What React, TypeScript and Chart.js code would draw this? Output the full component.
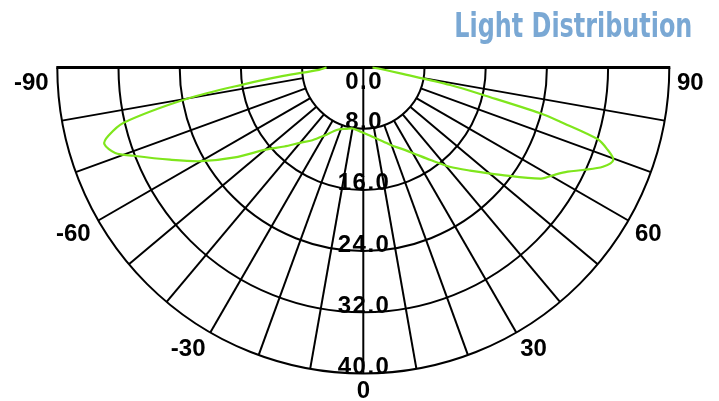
import React, { useEffect, useRef } from 'react';
import { Chart, registerables } from 'chart.js';

Chart.register(...registerables);

// Photometric curve: angle (deg, 0 = straight down) and intensity value
const angles = [-90, -87, -84, -82, -80, -77, -75, -73.5, -71, -69, -64.5, -60, -55, -50, -45, -40, -35, -30, -22.5, -15, -10, -5, 0, 5, 10, 15, 20, 25, 30, 36, 41, 46, 52, 58, 61, 63, 65, 67.5, 69.7, 71.5, 73, 74.6, 75.5, 77, 78.6, 81, 85, 90];
const intensity = [4.8, 5.8, 10.5, 15.8, 23.2, 32.2, 34.5, 35.3, 34.3, 32.2, 28.0, 24.5, 20.5, 16.7, 14.6, 12.85, 11.6, 10.3, 8.8, 8.3, 8.1, 8.25, 8.52, 8.9, 9.4, 10.0, 10.85, 11.7, 12.9, 14.95, 17.2, 19.4, 22.8, 27.4, 28.8, 30.0, 31.7, 33.9, 34.85, 33.6, 32.0, 26.7, 23.9, 16.4, 11.6, 4.9, 2.3, 1.2];

const ringTicks = [0, 8, 16, 24, 32, 40];
const spokeAngles = [-80, -70, -60, -50, -40, -30, -20, -10, 0, 10, 20, 30, 40, 50, 60, 70, 80];
const angleTickLabels = [-90, -60, -30, 0, 30, 60, 90];
const titleText = 'Light Distribution';

const W = 719;
const H = 401;
const CX = 363.3;
const CY = 67.5;
const UNIT = 7.65;

export default function App() {
  const ref = useRef<HTMLCanvasElement>(null);

  useEffect(() => {
    const points = angles.map((a, i) => {
      const t = (a * Math.PI) / 180;
      return { x: intensity[i] * Math.sin(t), y: -intensity[i] * Math.cos(t) };
    });
    const rMax = ringTicks[ringTicks.length - 1];
    const rInner = ringTicks[1];

    const gridPlugin = {
      id: 'polarGrid',
      beforeDatasetsDraw(chart: any) {
        const ctx = chart.ctx as CanvasRenderingContext2D;
        const xs = chart.scales.x;
        const ys = chart.scales.y;
        const cx = xs.getPixelForValue(0);
        const cy = ys.getPixelForValue(0);
        const u = xs.getPixelForValue(1) - cx;
        ctx.save();
        ctx.strokeStyle = '#000';
        ctx.lineWidth = 2;
        ringTicks.forEach((r) => {
          if (r <= 0) return;
          ctx.beginPath();
          ctx.arc(cx, cy, r * u, 0, Math.PI);
          ctx.stroke();
        });
        spokeAngles.forEach((a) => {
          const t = (a * Math.PI) / 180;
          const r0 = a === 0 ? 0 : rInner;
          ctx.beginPath();
          ctx.moveTo(cx + r0 * u * Math.sin(t), cy + r0 * u * Math.cos(t));
          ctx.lineTo(cx + rMax * u * Math.sin(t), cy + rMax * u * Math.cos(t));
          ctx.stroke();
        });
        ctx.lineWidth = 3.2;
        ctx.beginPath();
        ctx.moveTo(cx - rMax * u - 1, cy);
        ctx.lineTo(cx + rMax * u + 1, cy);
        ctx.stroke();

        ctx.fillStyle = '#000';
        ctx.font = 'bold 24px Arial, "Liberation Sans", sans-serif';
        ctx.textAlign = 'center';
        ctx.textBaseline = 'alphabetic';
        (ctx as any).letterSpacing = '1.5px';
        ringTicks.forEach((r) => {
          const y = r === 0 ? cy + 21 : cy + r * u + 0.5;
          ctx.fillText(r.toFixed(1), cx + 0.8, y);
        });
        (ctx as any).letterSpacing = '0px';
        const R = 41;
        angleTickLabels.forEach((a) => {
          const t = (a * Math.PI) / 180;
          const x = cx + R * u * Math.sin(t);
          let top = cy + R * u * Math.cos(t);
          if (Math.abs(a) === 90) top = cy + 5.5;
          ctx.textAlign = a > 0 ? 'left' : a < 0 ? 'right' : 'center';
          ctx.fillText(String(a), a < 0 ? x - 1 : x, top + 16.5);
        });

        ctx.font = 'bold 34px "Liberation Sans Narrow", "DejaVu Sans Condensed", sans-serif';
        const w = ctx.measureText(titleText).width;
        ctx.save();
        ctx.translate(692.3, 36.5);
        ctx.scale(238 / w, 1);
        ctx.textAlign = 'right';
        ctx.fillStyle = '#7AA8D4';
        ctx.fillText(titleText, 0, 0);
        ctx.restore();
        ctx.restore();
      },
    };

    const chart = new Chart(ref.current as HTMLCanvasElement, {
      type: 'scatter',
      data: {
        datasets: [
          {
            data: points,
            showLine: true,
            borderColor: '#7FE61C',
            borderWidth: 2.2,
            pointRadius: 0,
            tension: 0.3,
            fill: false,
          },
        ],
      },
      options: {
        animation: false,
        responsive: true,
        maintainAspectRatio: false,
        layout: { padding: 0 },
        plugins: { legend: { display: false }, tooltip: { enabled: false }, title: { display: false } },
        scales: {
          x: { type: 'linear', display: false, min: -CX / UNIT, max: (W - CX) / UNIT },
          y: { type: 'linear', display: false, min: -(H - CY) / UNIT, max: CY / UNIT },
        },
      },
      plugins: [gridPlugin],
    });
    return () => chart.destroy();
  }, []);

  return (
    <div style={{ position: 'fixed', left: 0, top: 0, width: W, height: H, background: '#fff' }}>
      <canvas ref={ref} />
    </div>
  );
}
